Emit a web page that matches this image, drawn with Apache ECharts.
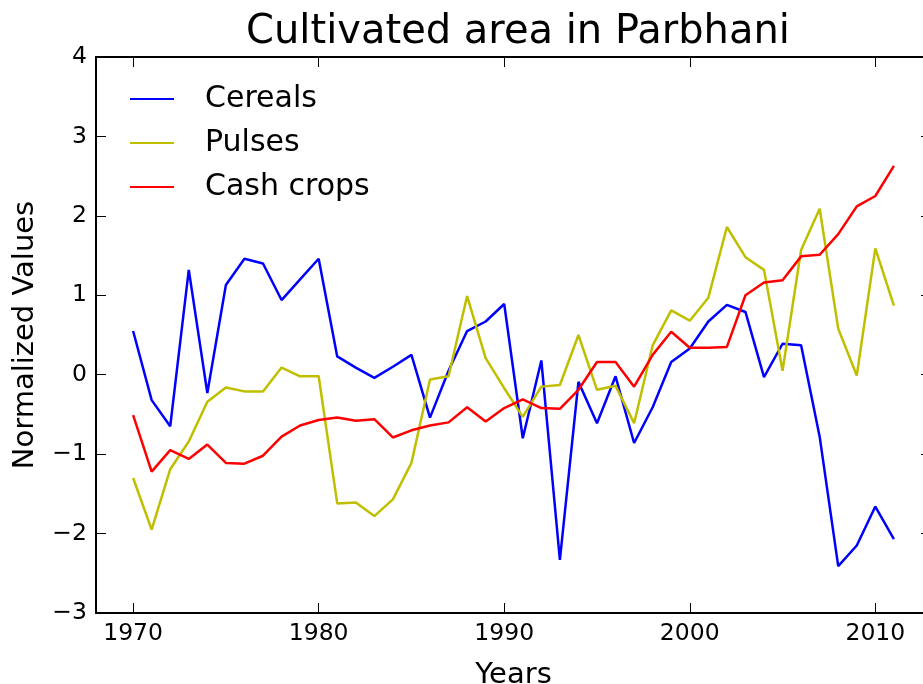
<!DOCTYPE html>
<html>
<head>
<meta charset="utf-8">
<script src="https://cdn.jsdelivr.net/npm/echarts@6/dist/echarts.min.js"></script>
<style>
  html, body { margin: 0; padding: 0; background: #fff; }
  #chart { width: 923px; height: 684px; }
</style>
</head>
<body>
<div id="chart"></div>
<script>
// 数据
var years = [];
for (var y = 1970; y <= 2011; y++) years.push(y);

var cereals = [0.55, -0.32, -0.65, 1.32, -0.23, 1.13, 1.46, 1.40, 0.94, 1.20,
    1.46, 0.23, 0.09, -0.04, 0.10, 0.25, -0.54, 0.05, 0.55, 0.67,
    0.89, -0.80, 0.18, -2.33, -0.09, -0.61, -0.02, -0.86, -0.41, 0.16,
    0.33, 0.67, 0.88, 0.79, -0.03, 0.39, 0.37, -0.78, -2.41, -2.15,
    -1.66, -2.07];
var pulses = [-1.30, -1.95, -1.19, -0.84, -0.34, -0.16, -0.21, -0.21, 0.09, -0.02,
    -0.02, -1.62, -1.61, -1.78, -1.57, -1.11, -0.06, -0.02, 0.99, 0.21,
    -0.17, -0.53, -0.15, -0.13, 0.50, -0.19, -0.14, -0.61, 0.37, 0.81,
    0.68, 0.97, 1.86, 1.48, 1.32, 0.05, 1.57, 2.09, 0.58, -0.01,
    1.59, 0.87];
var cashCrops = [-0.51, -1.22, -0.95, -1.06, -0.88, -1.11, -1.12, -1.02, -0.78, -0.64,
    -0.57, -0.54, -0.58, -0.56, -0.79, -0.70, -0.64, -0.60, -0.41, -0.59,
    -0.42, -0.31, -0.42, -0.43, -0.19, 0.16, 0.16, -0.15, 0.25, 0.54,
    0.34, 0.34, 0.35, 1.00, 1.16, 1.19, 1.49, 1.51, 1.77, 2.12,
    2.25, 2.63];
var xTicks = [1970, 1980, 1990, 2000, 2010];

function pairs(arr) {
    return arr.map(function (v, i) { return [years[i], v]; });
}

var font = 'DejaVu Sans';
var chart = echarts.init(document.getElementById('chart'));

var option = {
    animation: false,
    backgroundColor: '#fff',
    title: {
        text: 'Cultivated area in Parbhani',
        left: 513, textAlign: 'center',
        top: 8,
        textStyle: { fontFamily: font, fontSize: 40, fontWeight: 'normal', color: '#000' }
    },
    legend: {
        orient: 'vertical',
        left: 130, top: 82,
        padding: 0,
        icon: 'rect',
        itemWidth: 44, itemHeight: 2,
        itemGap: 10,
        textStyle: { fontFamily: font, fontSize: 30, color: '#000', lineHeight: 34, padding: [0, 0, 0, 26] },
        data: ['Cereals', 'Pulses', 'Cash crops']
    },
    grid: { left: 96, right: -8, top: 57, bottom: 71, outerBoundsMode: 'none' },
    xAxis: [{
        type: 'value', min: 1968, max: 2013,
        name: 'Years', nameLocation: 'middle', nameGap: 48,
        nameTextStyle: { fontFamily: font, fontSize: 29, color: '#000' },
        axisLine: { onZero: false, lineStyle: { color: '#000', width: 2 } },
        axisTick: { inside: true, length: 10, customValues: xTicks, lineStyle: { color: '#000' } },
        axisLabel: {
            customValues: xTicks, fontFamily: font, fontSize: 23.5, color: '#000', margin: 9,
            formatter: function (v) { return String(v); }
        },
        splitLine: { show: false }
    }, {
        type: 'value', min: 1968, max: 2013, position: 'top',
        axisLine: { show: true, onZero: false, lineStyle: { color: '#000', width: 2 } },
        axisTick: { inside: true, length: 10, customValues: xTicks, lineStyle: { color: '#000' } },
        axisLabel: { show: false },
        splitLine: { show: false }
    }],
    yAxis: [{
        type: 'value', min: -3, max: 4, interval: 1,
        name: 'Normalized Values', nameLocation: 'middle', nameGap: 56,
        nameTextStyle: { fontFamily: font, fontSize: 29, color: '#000' },
        axisLine: { show: true, onZero: false, lineStyle: { color: '#000', width: 2 } },
        axisTick: { show: true, inside: true, length: 10, lineStyle: { color: '#000' } },
        axisLabel: {
            fontFamily: font, fontSize: 23.5, color: '#000', margin: 9,
            formatter: function (v) { return String(v).replace('-', '\u2212'); }
        },
        splitLine: { show: false }
    }, {
        type: 'value', min: -3, max: 4, interval: 1, position: 'right',
        axisLine: { show: true, onZero: false, lineStyle: { color: '#000', width: 2 } },
        axisTick: { show: true, inside: true, length: 10, lineStyle: { color: '#000' } },
        axisLabel: { show: false },
        splitLine: { show: false }
    }],
    series: [{
        name: 'Cereals', type: 'line', showSymbol: false, symbol: 'none',
        color: '#0000ff', lineStyle: { width: 2.5 },
        data: pairs(cereals)
    }, {
        name: 'Pulses', type: 'line', showSymbol: false, symbol: 'none',
        color: '#bfbf00', lineStyle: { width: 2.5 },
        data: pairs(pulses)
    }, {
        name: 'Cash crops', type: 'line', showSymbol: false, symbol: 'none',
        color: '#ff0000', lineStyle: { width: 2.5 },
        data: pairs(cashCrops)
    }]
};
chart.setOption(option);
</script>
</body>
</html>
